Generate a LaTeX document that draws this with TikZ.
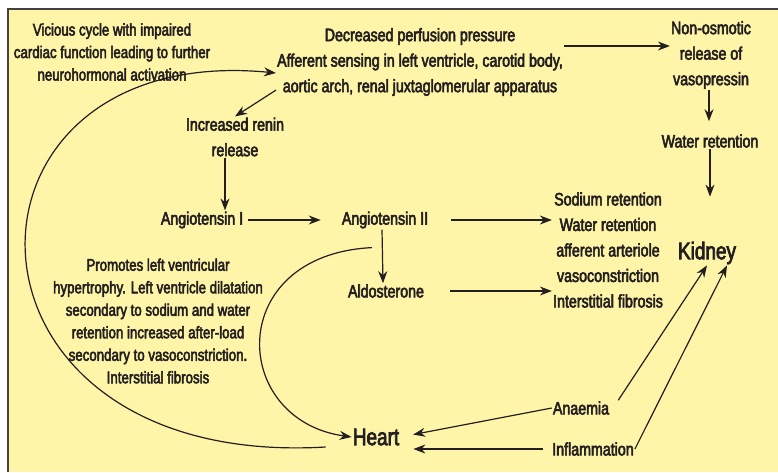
\documentclass[tikz,border=0pt]{standalone}
\usepackage{fontspec}
\setmainfont{Liberation Sans}[FakeStretch=0.79,FakeBold=3]
\usepackage{tikz}
\usetikzlibrary{arrows.meta}
\definecolor{paper}{HTML}{FFF5A8}
\definecolor{ink}{HTML}{231F20}
\tikzset{
	txt/.style={align=center, inner sep=1pt, text=ink, font=\fontsize{18}{25.5}\selectfont},
	small/.style={txt, font=\fontsize{16.8}{22.5}\selectfont},
	organ/.style={txt, font=\fontsize{24}{26}\selectfont},
	arr/.style={-{Stealth[length=12pt,width=9pt]}, draw=ink, line width=1.2pt},
}

\begin{document}
\begin{tikzpicture}[x=1pt,y=-1pt]
	\useasboundingbox (0,0) rectangle (778,472);
	\fill[white] (0,0) rectangle (778,472);
	\fill[paper] (8,9) rectangle (778,472);
	\draw[ink!85, line width=2pt] (8,472) -- (8,9) -- (778,9);

	% texts
	\node[small] (vicious) at (112,52) {Vicious cycle with impaired\\cardiac function leading to further\\neurohormonal activation};
	\node[txt] (decr) at (420,62) {Decreased perfusion pressure\\Afferent sensing in left ventricle, carotid body,\\aortic arch, renal juxtaglomerular apparatus};
	\node[txt] (nonosm) at (711,55) {Non-osmotic\\release of\\vasopressin};
	\node[txt] (water) at (710,141) {Water retention};
	\node[txt] (renin) at (235,137) {Increased renin\\release};
	\node[txt] (angI) at (202,220) {Angiotensin I};
	\node[txt] (angII) at (385,220) {Angiotensin II};
	\node[txt] (aldo) at (386,291) {Aldosterone};
	\node[txt] (sodium) at (608,250) {Sodium retention\\Water retention\\afferent arteriole\\vasoconstriction\\Interstitial fibrosis};
	\node[organ] (kidney) at (707,253) {Kidney};
	\node[small] (promotes) at (158,321) {Promotes left ventricular\\hypertrophy. Left ventricle dilatation\\secondary to sodium and water\\retention increased after-load\\secondary to vasoconstriction.\\Interstitial fibrosis};
	\node[organ] (heart) at (376,437) {Heart};
	\node[txt] (anaemia) at (581,408) {Anaemia};
	\node[txt] (inflam) at (593,449) {Inflammation};

	% arrows
	\draw[arr] ([yshift=16pt]decr.east) -- ([yshift=16pt]decr.east -| nonosm.west);
	\draw[arr, shorten >=12pt] ([xshift=-2pt]nonosm.south) -- ([xshift=-2pt]nonosm.south |- water.north);
	\draw[arr, shorten >=44pt] (water.south) -- (water.south |- kidney.north);
	\draw[arr] ([yshift=7pt]decr.south west) -- (renin.north);
	\draw[arr] ([xshift=-10pt]renin.south) -- ([xshift=-10pt]renin.south |- angI.north);
	\draw[arr, shorten <=4pt, shorten >=20pt] (angI) -- (angII);
	\draw[arr, shorten <=22pt] (angII.east) -- (angII.east -| sodium.west);
	\draw[arr] ([xshift=-3pt]angII.south) -- ([xshift=-3pt]aldo.north);
	\draw[arr, shorten <=25pt] (aldo.east) -- (aldo.east -| sodium.west);
	\draw[arr] ([xshift=-13pt,yshift=-18pt]angII.south) .. controls (224,255) and (230,420) .. (heart.west);
	\draw[arr] ([xshift=-26pt,yshift=-10pt]heart.west) .. controls (-65,470) and (-65,40) .. ([yshift=-11pt]decr.west);
	\draw[arr, shorten >=13pt] (anaemia.west) -- (heart.east);
	\draw[arr, shorten <=8pt, shorten >=13pt] (inflam.west) -- (inflam.west -| heart.east);
	\draw[arr] ([xshift=8pt]anaemia.north east) -- (kidney.south);
	\draw[arr] (inflam.east) -- ([xshift=20pt]kidney.south);
\end{tikzpicture}
\end{document}
